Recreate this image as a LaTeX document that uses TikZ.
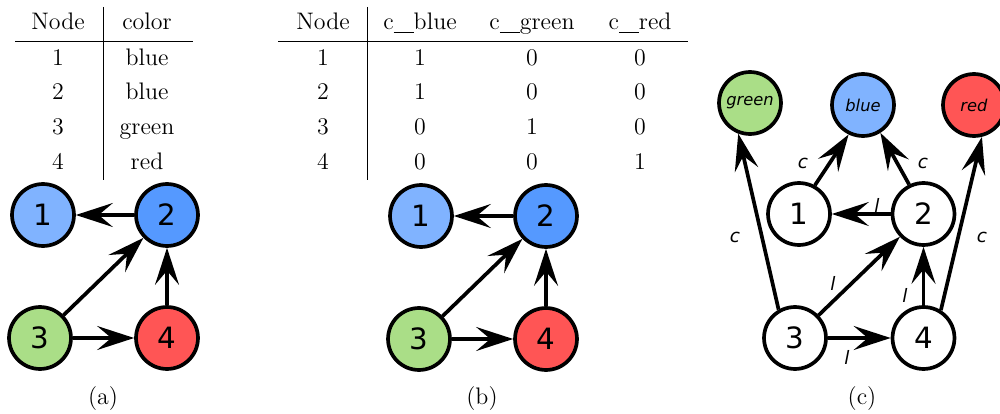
\documentclass[tikz,border=0pt]{standalone}
\usepackage{fontspec}
\newfontfamily\dejavu{DejaVu Sans}
\usetikzlibrary{arrows.meta,positioning}
\definecolor{lightblue}{HTML}{80B3FF}
\definecolor{darkblue}{HTML}{5599FF}
\definecolor{lightgreen}{HTML}{AADE87}
\definecolor{lightred}{HTML}{FF5555}
\newcommand\dbar{\rule[-1.2pt]{9.2pt}{0.45pt}}
\tikzset{
  vertex/.style={circle,draw,line width=1.7pt,minimum size=28.5pt,inner sep=0pt,
    font=\dejavu\fontsize{13.5}{14}\selectfont},
  colvertex/.style={vertex,font=\dejavu\itshape\fontsize{7.5}{8}\selectfont},
  arr/.style={line width=1.7pt,-{Stealth[length=17pt,width=11pt,inset=6.5pt]}},
  lbl/.style={font=\dejavu\itshape\fontsize{8.5}{9}\selectfont},
  cell/.style={anchor=base,font=\fontsize{11}{12}\selectfont},
  caption/.style={font=\fontsize{11}{12}\selectfont},
}
\begin{document}
\begin{tikzpicture}[x=0.46pt,y=-0.46pt]
\useasboundingbox (0,0) rectangle (1000,414);
% table (a)
\node[cell] (ta-h1) at (58,30) {Node};
\node[cell] (ta-h2) at (147,30) {color};
\foreach \n/\c/\y in {1/blue/66,2/blue/100,3/green/135,4/red/170}{
    \node[cell] (ta-n\n) at (58,\y) {\n};
    \node[cell] (ta-c\n) at (147,\y) {\c};
}
\draw[line width=0.4pt] (15,41) -- (193,41);
\draw[line width=0.4pt] (103,7) -- (103,180);
% table (b)
\node[cell] (tb-h1) at (323,30) {Node};
\node[cell] (tb-h2) at (420,30) {c\dbar blue};
\node[cell] (tb-h3) at (532,30) {c\dbar green};
\node[cell] (tb-h4) at (640,30) {c\dbar red};
\foreach \n/\b/\g/\r/\y in {1/1/0/0/66,2/1/0/0/100,3/0/1/0/135,4/0/0/1/170}{
    \node[cell] (tb-n\n) at (323,\y) {\n};
    \node[cell] (tb-b\n) at (420,\y) {\b};
    \node[cell] (tb-g\n) at (532,\y) {\g};
    \node[cell] (tb-r\n) at (640,\y) {\r};
}
\draw[line width=0.4pt] (278,41) -- (688,41);
\draw[line width=0.4pt] (367,7) -- (367,180);
% graph (a)
\node[vertex,fill=lightblue] (a1) at (43,215) {1};
\node[vertex,fill=darkblue] (a2) at (167,215) {2};
\node[vertex,fill=lightgreen] (a3) at (40,338) {3};
\node[vertex,fill=lightred] (a4) at (167,338) {4};
\draw[arr] (a2) -- (a1);
\draw[arr] (a3) -- (a2);
\draw[arr] (a4) -- (a2);
\draw[arr] (a3) -- (a4);
\node[caption] (capa) at (103,399) {(a)};
% graph (b)
\node[vertex,fill=lightblue] (b1) at (421,216) {1};
\node[vertex,fill=darkblue] (b2) at (546,216) {2};
\node[vertex,fill=lightgreen] (b3) at (419,339) {3};
\node[vertex,fill=lightred] (b4) at (546,339) {4};
\draw[arr] (b2) -- (b1);
\draw[arr] (b3) -- (b2);
\draw[arr] (b4) -- (b2);
\draw[arr] (b3) -- (b4);
\node[caption] (capb) at (482,399) {(b)};
% graph (c)
\node[colvertex,fill=lightgreen] (green) at (750,103) {green};
\node[colvertex,fill=lightblue] (blue) at (863,105) {blue};
\node[colvertex,fill=lightred] (red) at (974,105) {red};
\node[vertex,fill=white] (c1) at (799,214) {1};
\node[vertex,fill=white] (c2) at (923.5,214) {2};
\node[vertex,fill=white] (c3) at (795,338) {3};
\node[vertex,fill=white] (c4) at (923.5,338) {4};
\draw[arr] (c3.120) -- (green.-111);
\draw[arr] (c1.61) -- (blue.-116);
\draw[arr] (c2.116) -- (blue.-58);
\draw[arr] (c4.58) -- (red.-76);
\draw[arr] (c2) -- (c1);
\draw[arr] (c3) -- (c2);
\draw[arr] (c4) -- (c2);
\draw[arr] (c3) -- (c4);
\node[lbl] (lc1) at (735,237) {c};
\node[lbl] (lc2) at (803,163) {c};
\node[lbl] (lc3) at (923,163) {c};
\node[lbl] (lc4) at (982,237) {c};
\node[lbl] (ll1) at (877,205) {l};
\node[lbl] (ll2) at (833,283) {l};
\node[lbl] (ll3) at (905,295) {l};
\node[lbl] (ll4) at (847,357) {l};
\node[caption] (capc) at (862,399) {(c)};
\end{tikzpicture}
\end{document}
